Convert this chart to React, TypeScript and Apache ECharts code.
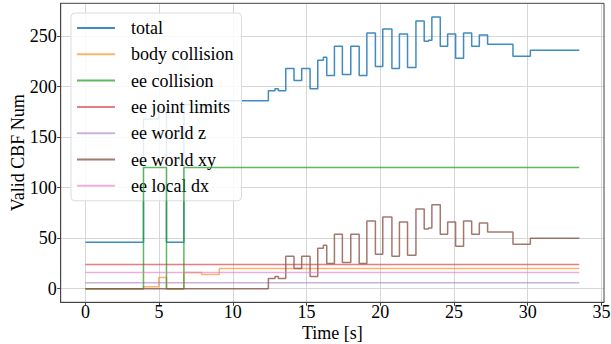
import React, { useEffect, useRef } from "react";
import * as echarts from "echarts";

const seriesNames = [
  "total",
  "body collision",
  "ee collision",
  "ee joint limits",
  "ee world z",
  "ee world xy",
  "ee local dx",
];

const totalT = [0, 3.94, 4.98, 5.5, 6.68, 7.88, 9.08, 12.41, 12.86, 13.09, 13.59, 14.15, 14.67, 15.24, 15.76, 16.14, 16.37, 16.89, 17.43, 18.0, 18.57, 19.09, 19.67, 20.17, 20.79, 21.3, 21.85, 22.42, 22.98, 23.27, 23.5, 24.07, 24.57, 25.11, 25.65, 26.2, 26.72, 27.28, 29.0, 30.18, 33.5];
const totalV = [46, 168, 176, 46, 182, 180, 186, 196, 198, 196, 218, 206, 218, 198, 226, 229, 211, 240, 212, 240, 211, 253, 220, 257, 218, 252, 219, 265, 245, 246, 269, 240, 252, 228, 253, 240, 251, 242, 230, 236, 236];

const bodyT = [0, 3.94, 4.98, 5.5, 6.68, 7.88, 9.08, 33.5];
const bodyV = [0, 2, 11, 0, 16, 14, 20, 20];

const eeCollT = [0, 3.94, 5.5, 6.68, 33.5];
const eeCollV = [0, 120, 0, 120, 120];

const jointT = [0, 33.5];
const jointV = [24, 24];

const worldZT = [0, 33.5];
const worldZV = [6, 6];

const worldXyT = [0, 12.41, 12.86, 13.09, 13.59, 14.15, 14.67, 15.24, 15.76, 16.14, 16.37, 16.89, 17.43, 18.0, 18.57, 19.09, 19.67, 20.17, 20.79, 21.3, 21.85, 22.42, 22.98, 23.27, 23.5, 24.07, 24.57, 25.11, 25.65, 26.2, 26.72, 27.28, 29.0, 30.18, 33.5];
const worldXyV = [0, 10, 12, 10, 32, 20, 32, 12, 40, 43, 25, 54, 26, 54, 25, 67, 34, 71, 32, 66, 33, 79, 59, 60, 83, 54, 66, 42, 67, 54, 65, 56, 44, 50, 50];

const localDxT = [0, 33.5];
const localDxV = [16, 16];

const xTicks = [0, 5, 10, 15, 20, 25, 30, 35];
const yTicks = [0, 50, 100, 150, 200, 250];

const colors = [
  "rgba(31,119,180,0.85)",
  "rgba(255,127,14,0.6)",
  "rgba(44,160,44,0.75)",
  "rgba(214,39,40,0.6)",
  "rgba(148,103,189,0.5)",
  "rgba(140,86,75,0.8)",
  "rgba(227,119,194,0.6)",
];

const allT = [totalT, bodyT, eeCollT, jointT, worldZT, worldXyT, localDxT];
const allV = [totalV, bodyV, eeCollV, jointV, worldZV, worldXyV, localDxV];

const FONT = "Liberation Serif";

export default function App() {
  const ref = useRef<HTMLDivElement>(null);
  useEffect(() => {
    if (!ref.current) return;
    const chart = echarts.init(ref.current, undefined, { renderer: "svg" });
    chart.setOption({
      animation: false,
      backgroundColor: "#ffffff",
      grid: {
        left: 60.7,
        top: 3.3,
        right: 7,
        bottom: 41.7,
        containLabel: false,
        outerBoundsMode: "none",
      },
      legend: {
        orient: "vertical",
        left: 71,
        top: 13,
        padding: [5, 8, 5, 6],
        backgroundColor: "rgba(255,255,255,0.85)",
        borderColor: "#dcdcdc",
        borderWidth: 1,
        borderRadius: 4,
        itemWidth: 38,
        itemHeight: 2,
        itemGap: 6.3,
        icon: "rect",
        data: seriesNames,
        textStyle: {
          fontFamily: FONT,
          fontSize: 18,
          color: "#000",
          lineHeight: 20,
          padding: [0, 0, 0, 11],
        },
      },
      xAxis: {
        type: "value",
        min: -1.675,
        max: 35.175,
        name: "Time [s]",
        nameLocation: "middle",
        nameGap: 24,
        nameMoveOverlap: false,
        nameTextStyle: { fontFamily: FONT, fontSize: 18, color: "#000", lineHeight: 14 },
        axisLine: { show: true, onZero: false, lineStyle: { color: "#444", width: 1 } },
        axisTick: { show: true, length: 3.5, customValues: xTicks, lineStyle: { color: "#444" } },
        axisLabel: { customValues: xTicks, fontFamily: FONT, fontSize: 18, color: "#000", margin: 3, lineHeight: 14 },
        splitLine: { show: true, lineStyle: { color: "#d6d6d6", width: 1 } },
      },
      yAxis: {
        type: "value",
        min: -13.45,
        max: 282.45,
        name: "Valid CBF Num",
        nameLocation: "middle",
        nameGap: 34,
        nameMoveOverlap: false,
        nameRotate: 90,
        nameTextStyle: { fontFamily: FONT, fontSize: 18, color: "#000" },
        axisLine: { show: true, onZero: false, lineStyle: { color: "#444", width: 1 } },
        axisTick: { show: true, length: 3.5, customValues: yTicks, lineStyle: { color: "#444" } },
        axisLabel: { customValues: yTicks, fontFamily: FONT, fontSize: 18, color: "#000", margin: 4 },
        splitLine: { show: true, lineStyle: { color: "#d6d6d6", width: 1 } },
      },
      graphic: [
        {
          type: "rect",
          shape: { x: 60.7, y: 3.3, width: 611 - 7 - 60.7, height: 344 - 41.7 - 3.3 },
          style: { fill: "none", stroke: "#444", lineWidth: 1 },
          silent: true,
          z: 100,
        },
      ],
      series: seriesNames.map((name, i) => ({
        name,
        type: "line",
        step: "end",
        showSymbol: false,
        symbol: "none",
        data: allT[i].map((t, j) => [t, allV[i][j]]),
        lineStyle: { color: colors[i], width: 1.5 },
        itemStyle: { color: colors[i] },
        z: 2 + i,
      })),
    });
    return () => chart.dispose();
  }, []);
  return (
    <div
      ref={ref}
      style={{ position: "fixed", left: 0, top: 0, width: 611, height: 344 }}
    />
  );
}
